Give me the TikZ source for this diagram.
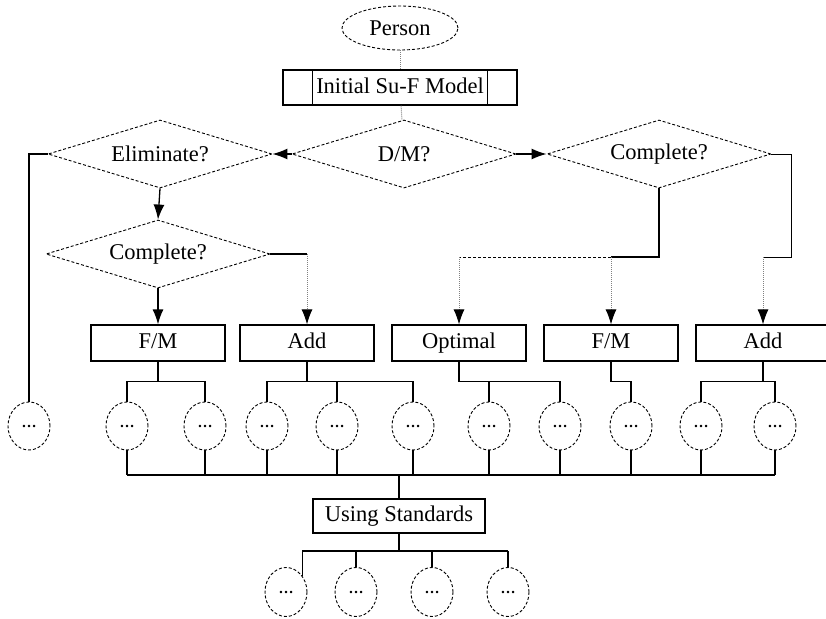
\documentclass[tikz,border=0pt]{standalone}
\usepackage{fontspec}
\setmainfont{Liberation Serif}
\usepackage{tikz}
\usetikzlibrary{arrows.meta,shapes,positioning}
\tikzset{>={Latex[length=15pt,width=11pt]}}
\tikzset{
  box/.style={draw,line width=1.2pt,minimum width=134pt,minimum height=36pt,inner sep=0pt,text height=15pt,text depth=4pt,font=\fontsize{22.5}{26}\selectfont},
  ask/.style={draw,densely dashed,line width=0.9pt,diamond,aspect=3.3,minimum width=224pt,minimum height=68pt,inner sep=0pt,font=\fontsize{22.5}{26}\selectfont},
  start/.style={draw,densely dashed,line width=0.9pt,ellipse,minimum width=116pt,minimum height=44pt,inner sep=0pt,font=\fontsize{22.5}{26}\selectfont},
  dots/.style={draw,densely dashed,line width=0.9pt,ellipse,minimum width=42pt,minimum height=48pt,inner sep=0pt,font=\fontsize{15}{17}\bfseries},
  link/.style={line width=1.3pt},
  hint/.style={densely dotted,gray,line width=1pt,arrows={-{Latex[length=15pt,width=11pt,color=black]}}},
  faint/.style={densely dotted,gray,line width=1pt},
}
\begin{document}
\begin{tikzpicture}[x=1pt,y=-1pt]
          \useasboundingbox (0,0) rectangle (826,618);
          \node [start] (person) at (400,28) {Person};
          \node [box,minimum width=234pt,minimum height=35pt] (init) at (400,87.5) {Initial Su-F Model};
          \draw [line width=1.2pt] ([xshift=30pt]init.north west) -- ([xshift=30pt]init.south west);
          \draw [line width=1.2pt] ([xshift=-30pt]init.north east) -- ([xshift=-30pt]init.south east);
          \node [ask] (dm) at (404,154) {D/M?};
          \node [ask] (elim) at (160,154) {Eliminate?};
          \node [ask] (compl) at (158,254) {Complete?};
          \node [ask] (compr) at (659,154) {Complete?};
          \node [box] (fm1) at (158,343) {F/M};
          \node [box] (add1) at (307,343) {Add};
          \node [box] (opt) at (459,343) {Optimal};
          \node [box] (fm2) at (611,343) {F/M};
          \node [box] (add2) at (763,343) {Add};
          \node [dots] (d0) at (29,426) {\dots};
          \node [dots] (d1) at (127,426) {\dots};
          \node [dots] (d2) at (205,426) {\dots};
          \node [dots] (d3) at (267,426) {\dots};
          \node [dots] (d4) at (337,426) {\dots};
          \node [dots] (d5) at (413,426) {\dots};
          \node [dots] (d6) at (489,426) {\dots};
          \node [dots] (d7) at (560,426) {\dots};
          \node [dots] (d8) at (631,426) {\dots};
          \node [dots] (d9) at (701,426) {\dots};
          \node [dots] (d10) at (775,426) {\dots};
          \node [box,minimum width=172pt,minimum height=34pt] (std) at (399,516) {Using Standards};
          \node [dots,minimum height=49pt] (s1) at (286,592) {\dots};
          \node [dots,minimum height=49pt] (s2) at (356,592) {\dots};
          \node [dots,minimum height=49pt] (s3) at (432,592) {\dots};
          \node [dots,minimum height=49pt] (s4) at (508,592) {\dots};
          \coordinate (split) at (611,257);
          \coordinate (bend) at (791,154);
          \coordinate (bus) at (0,475);
          \coordinate (bus2) at (0,551);
          \draw [faint] (person) -- (init);
          \draw [faint] (init) -- (dm);
          \draw [link,->] (dm.west) -- (elim.east);
          \draw [link,->] (dm.east) -- (compr.west);
          \draw [link,->] (elim.south) -- (compl.north);
          \draw [link] (elim.west) -| (d0.north);
          \draw [link,->] (compl.south) -- (fm1.north);
          \draw [link] (compl.east) -- (compl.east -| add1.north);
          \draw [hint] (compl.east -| add1.north) -- (add1.north);
          \draw [link] (compr.south) |- (split);
          \draw [densely dashed,line width=1pt] (split) -- (opt.north |- split);
          \draw [hint] (opt.north |- split) -- (opt.north);
          \draw [hint] (split) -- (fm2.north);
          \draw [line width=1pt] (compr.east) -- (bend) |- (add2.north |- split);
          \draw [hint] (add2.north |- split) -- (add2.north);
          \draw [link] (fm1.south) -- ++(0,20) -| (d1.north);
          \draw [link] (fm1.south) -- ++(0,20) -| (d2.north);
          \draw [link] (add1.south) -- ++(0,20) -| (d3.north);
          \draw [link] (add1.south) -- ++(0,20) -| (d5.north);
          \draw [link] (d4.north) -- ++(0,-21);
          \draw [link] (opt.south) -- ++(0,20) -| (d6.north);
          \draw [link] (opt.south) -- ++(0,20) -| (d7.north);
          \draw [link] (fm2.south) -- ++(0,20) -| (d8.north);
          \draw [link] (add2.south) -- ++(0,20) -| (d9.north);
          \draw [link] (add2.south) -- ++(0,20) -| (d10.north);
          \draw [link] (d1.south) -- (d1.south |- bus);
          \draw [link] (d2.south) -- (d2.south |- bus);
          \draw [link] (d3.south) -- (d3.south |- bus);
          \draw [link] (d4.south) -- (d4.south |- bus);
          \draw [link] (d5.south) -- (d5.south |- bus);
          \draw [link] (d6.south) -- (d6.south |- bus);
          \draw [link] (d7.south) -- (d7.south |- bus);
          \draw [link] (d8.south) -- (d8.south |- bus);
          \draw [link] (d9.south) -- (d9.south |- bus);
          \draw [link] (d10.south) -- (d10.south |- bus);
          \draw [link] (d1.south |- bus) -- (d10.south |- bus);
          \draw [link] (std.north |- bus) -- (std.north);
          \draw [link] (std.south) -- (std.south |- bus2);
          \draw [link] (s1.45 |- bus2) -- (s4.north |- bus2);
          \draw [link] (s1.45 |- bus2) -- (s1.45);
          \draw [link] (s2.north |- bus2) -- (s2.north);
          \draw [link] (s3.north |- bus2) -- (s3.north);
          \draw [link] (s4.north |- bus2) -- (s4.north);
        \end{tikzpicture}
\end{document}
